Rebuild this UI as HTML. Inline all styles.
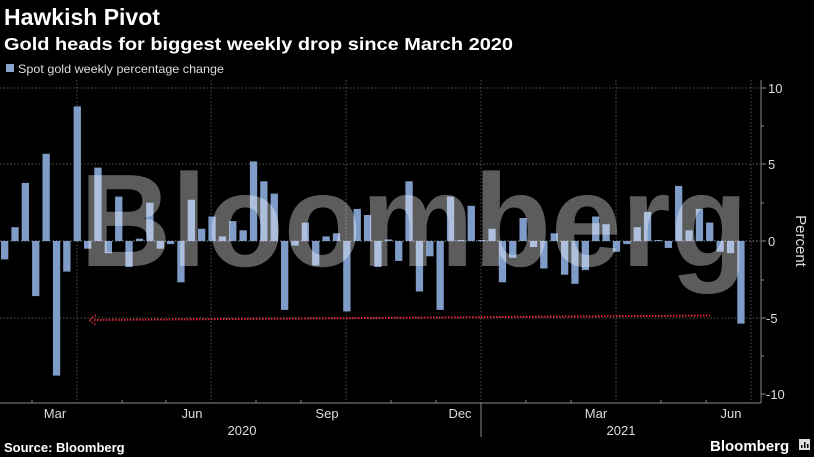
<!DOCTYPE html>
<html><head><meta charset="utf-8"><style>
html,body{margin:0;padding:0;background:#000;}
svg{display:block;font-family:"Liberation Sans","DejaVu Sans",sans-serif;}
</style></head><body>
<svg width="814" height="457" viewBox="0 0 814 457" xmlns="http://www.w3.org/2000/svg">
<rect width="814" height="457" fill="#000"/>
<text x="4" y="25" fill="#fff" font-size="23" font-weight="bold">Hawkish Pivot</text>
<text x="4" y="50" fill="#fff" font-size="17.5" font-weight="bold" textLength="509" lengthAdjust="spacingAndGlyphs">Gold heads for biggest weekly drop since March 2020</text>
<rect x="6" y="64" width="8" height="8" fill="#8aa3cc"/>
<text x="18" y="73" fill="#ddd" font-size="12" textLength="206" lengthAdjust="spacingAndGlyphs">Spot gold weekly percentage change</text>
<g stroke="#555" stroke-width="1" stroke-dasharray="1.5,2">
<line x1="0" y1="88" x2="760" y2="88"/>
<line x1="0" y1="164" x2="760" y2="164"/>
<line x1="0" y1="318" x2="760" y2="318"/>
<line x1="77" y1="80" x2="77" y2="403"/>
<line x1="211" y1="80" x2="211" y2="403"/>
<line x1="346" y1="80" x2="346" y2="403"/>
<line x1="481" y1="80" x2="481" y2="403"/>
<line x1="616" y1="80" x2="616" y2="403"/>
<line x1="751" y1="80" x2="751" y2="403"/>
</g>
<line x1="0" y1="241" x2="760" y2="241" stroke="#888" stroke-width="1" stroke-dasharray="1.5,2"/>
<g fill="#7f9cc8">
<rect x="1.0" y="241" width="7.3" height="18.4"/>
<rect x="11.4" y="227.2" width="7.3" height="13.8"/>
<rect x="21.7" y="182.9" width="7.3" height="58.1"/>
<rect x="32.1" y="241" width="7.3" height="55.1"/>
<rect x="42.5" y="153.8" width="7.3" height="87.2"/>
<rect x="52.9" y="241" width="7.3" height="134.6"/>
<rect x="63.2" y="241" width="7.3" height="30.6"/>
<rect x="73.6" y="106.4" width="7.3" height="134.6"/>
<rect x="84.0" y="241" width="7.3" height="7.7"/>
<rect x="94.3" y="167.6" width="7.3" height="73.4"/>
<rect x="104.7" y="241" width="7.3" height="12.2"/>
<rect x="115.1" y="196.6" width="7.3" height="44.4"/>
<rect x="125.4" y="241" width="7.3" height="26"/>
<rect x="135.8" y="238.7" width="7.3" height="2.3"/>
<rect x="146.2" y="202.7" width="7.3" height="38.3"/>
<rect x="156.6" y="241" width="7.3" height="7.7"/>
<rect x="166.9" y="241" width="7.3" height="3.1"/>
<rect x="177.3" y="241" width="7.3" height="41.3"/>
<rect x="187.7" y="199.7" width="7.3" height="41.3"/>
<rect x="198.0" y="228.8" width="7.3" height="12.2"/>
<rect x="208.4" y="216.5" width="7.3" height="24.5"/>
<rect x="218.8" y="236.4" width="7.3" height="4.6"/>
<rect x="229.1" y="221.1" width="7.3" height="19.9"/>
<rect x="239.5" y="230.3" width="7.3" height="10.7"/>
<rect x="249.9" y="161.4" width="7.3" height="79.6"/>
<rect x="260.2" y="181.3" width="7.3" height="59.7"/>
<rect x="270.6" y="193.6" width="7.3" height="47.4"/>
<rect x="281.0" y="241" width="7.3" height="68.9"/>
<rect x="291.4" y="241" width="7.3" height="4.6"/>
<rect x="301.7" y="222.6" width="7.3" height="18.4"/>
<rect x="312.1" y="241" width="7.3" height="24.5"/>
<rect x="322.5" y="236.4" width="7.3" height="4.6"/>
<rect x="332.8" y="233.3" width="7.3" height="7.7"/>
<rect x="343.2" y="241" width="7.3" height="70.4"/>
<rect x="353.6" y="208.9" width="7.3" height="32.1"/>
<rect x="363.9" y="215" width="7.3" height="26"/>
<rect x="374.3" y="241" width="7.3" height="26"/>
<rect x="384.7" y="239.5" width="7.3" height="1.5"/>
<rect x="395.1" y="241" width="7.3" height="19.9"/>
<rect x="405.4" y="181.3" width="7.3" height="59.7"/>
<rect x="415.8" y="241" width="7.3" height="50.5"/>
<rect x="426.2" y="241" width="7.3" height="15.3"/>
<rect x="436.5" y="241" width="7.3" height="68.9"/>
<rect x="446.9" y="196.6" width="7.3" height="44.4"/>
<rect x="457.3" y="240" width="7.3" height="1"/>
<rect x="467.6" y="205.8" width="7.3" height="35.2"/>
<rect x="478.0" y="240" width="7.3" height="1"/>
<rect x="488.4" y="228.8" width="7.3" height="12.2"/>
<rect x="498.8" y="241" width="7.3" height="41.3"/>
<rect x="509.1" y="241" width="7.3" height="16.8"/>
<rect x="519.5" y="218" width="7.3" height="23"/>
<rect x="529.9" y="241" width="7.3" height="6.1"/>
<rect x="540.2" y="241" width="7.3" height="27.5"/>
<rect x="550.6" y="233.3" width="7.3" height="7.7"/>
<rect x="561.0" y="241" width="7.3" height="33.7"/>
<rect x="571.3" y="241" width="7.3" height="42.8"/>
<rect x="581.7" y="241" width="7.3" height="29.1"/>
<rect x="592.1" y="216.5" width="7.3" height="24.5"/>
<rect x="602.4" y="224.2" width="7.3" height="16.8"/>
<rect x="612.8" y="241" width="7.3" height="10.7"/>
<rect x="623.2" y="241" width="7.3" height="3.1"/>
<rect x="633.6" y="227.2" width="7.3" height="13.8"/>
<rect x="643.9" y="211.9" width="7.3" height="29.1"/>
<rect x="654.3" y="240" width="7.3" height="1"/>
<rect x="664.7" y="241" width="7.3" height="6.9"/>
<rect x="675.0" y="185.9" width="7.3" height="55.1"/>
<rect x="685.4" y="230.3" width="7.3" height="10.7"/>
<rect x="695.8" y="208.9" width="7.3" height="32.1"/>
<rect x="706.1" y="222.6" width="7.3" height="18.4"/>
<rect x="716.5" y="241" width="7.3" height="10.7"/>
<rect x="726.9" y="241" width="7.3" height="12.2"/>
<rect x="737.3" y="241" width="7.3" height="82.6"/>
</g>
<text x="80" y="266" fill="#fff" fill-opacity="0.36" font-size="132" font-weight="bold" textLength="668" lengthAdjust="spacingAndGlyphs">Bloomberg</text>
<line x1="94" y1="320" x2="710" y2="315.5" stroke="#e0253a" stroke-width="2" stroke-dasharray="1.5,1.5"/>
<polyline points="96,315 89,320 96,325" fill="none" stroke="#e0253a" stroke-width="1.5" stroke-dasharray="1.5,1.5"/>
<line x1="0" y1="403" x2="761" y2="403" stroke="#888"/>
<g stroke="#888"><line x1="761" y1="80" x2="761" y2="403"/>
<line x1="761" y1="88" x2="766" y2="88"/><line x1="761" y1="164" x2="766" y2="164"/><line x1="761" y1="241" x2="766" y2="241"/><line x1="761" y1="318" x2="766" y2="318"/><line x1="761" y1="394" x2="766" y2="394"/>
<line x1="761" y1="126" x2="764" y2="126"/><line x1="761" y1="203" x2="764" y2="203"/><line x1="761" y1="280" x2="764" y2="280"/><line x1="761" y1="356" x2="764" y2="356"/>
<line x1="481" y1="403" x2="481" y2="437"/>
<line x1="32" y1="403" x2="32" y2="400"/><line x1="122" y1="403" x2="122" y2="400"/><line x1="166" y1="403" x2="166" y2="400"/><line x1="256" y1="403" x2="256" y2="400"/><line x1="301" y1="403" x2="301" y2="400"/><line x1="391" y1="403" x2="391" y2="400"/><line x1="436" y1="403" x2="436" y2="400"/><line x1="526" y1="403" x2="526" y2="400"/><line x1="571" y1="403" x2="571" y2="400"/><line x1="661" y1="403" x2="661" y2="400"/><line x1="706" y1="403" x2="706" y2="400"/>
</g>
<g fill="#ddd" font-size="13">
<text x="768" y="93">10</text><text x="768" y="169">5</text><text x="768" y="246">0</text><text x="766" y="323">-5</text><text x="766" y="399">-10</text>
<text text-anchor="middle" x="55" y="418">Mar</text><text text-anchor="middle" x="192" y="418">Jun</text><text text-anchor="middle" x="327" y="418">Sep</text><text text-anchor="middle" x="460" y="418">Dec</text><text text-anchor="middle" x="596" y="418">Mar</text><text text-anchor="middle" x="731" y="418">Jun</text>
<text text-anchor="middle" x="242" y="435">2020</text><text text-anchor="middle" x="621" y="435">2021</text>
</g>
<text x="796" y="241" fill="#ddd" font-size="15" text-anchor="middle" transform="rotate(90 796 241)">Percent</text>
<text x="4" y="452" fill="#fff" font-size="13" font-weight="bold">Source: Bloomberg</text>
<text x="710" y="451" fill="#fff" font-size="15" font-weight="bold">Bloomberg</text>
<rect x="799" y="439" width="11" height="11" fill="#ddd"/>
<g fill="#000"><rect x="801" y="445" width="1.5" height="3"/><rect x="804" y="442" width="1.5" height="6"/><rect x="807" y="444" width="1.5" height="4"/></g>
</svg>
</body></html>
